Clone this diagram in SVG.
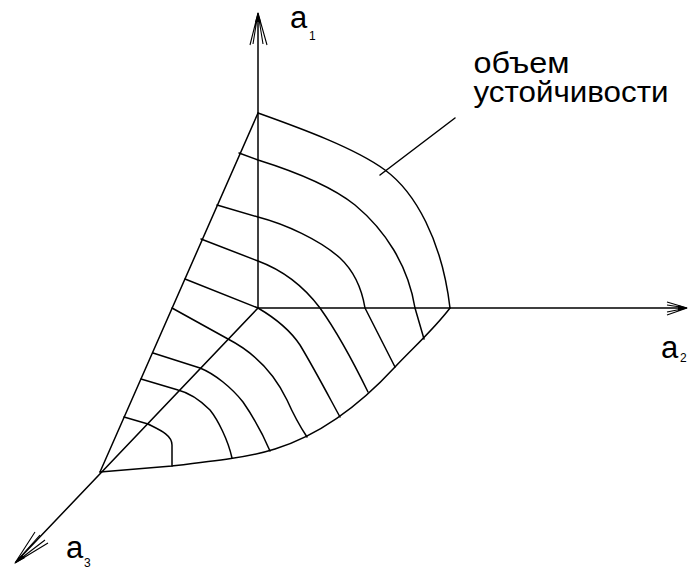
<svg xmlns="http://www.w3.org/2000/svg" width="694" height="569" viewBox="0 0 694 569">
<style>
.ln{fill:none;stroke:#000;stroke-width:1.5;stroke-linejoin:round;stroke-linecap:round}
.ah{fill:none;stroke:#000;stroke-width:1.1}
.tip{fill:#000}
.lbl{font-family:"Liberation Sans",Arial,sans-serif;fill:#000}
.main{font-size:31px}
.txt{font-size:29px}
.sub{font-size:12px}
</style>
<rect width="694" height="569" fill="#fff"/>
<g id="connectors">
  <path class="ln" d="M258,308 L258,14"/>
  <path class="ln" d="M258,308 L686,308"/>
  <path class="ln" d="M258,308 L16,562"/>
  <path class="ah" d="M258,13 L250,45 M258,13 L253,44 M258,13 L263,44 M258,13 L267,45"/>
  <polygon class="tip" points="258,12 255,22 261,22"/>
  <path class="ah" d="M687,308 L667,302 M687,308 L667,305 M687,308 L667,312 M687,308 L667,315"/>
  <polygon class="tip" points="688,308 678,305 678,311"/>
  <path class="ah" d="M15,563 L35,532 M15,563 L40,535 M15,563 L45,540 M15,563 L48,543"/>
  <polygon class="tip" points="14,564 22,555 25,558"/>
  <path class="ln" d="M380,175 L455,118"/>
</g>
<g id="volume">
  <path class="ln" d="M258,113 L100,472"/>
  <path class="ln" d="M258,113 C300,128 355,148 385,170 C415,192 442,240 450,308"/>
  <path class="ln" d="M100,472 L172,466 C215,461 250,457 275,449 C320,435 360,405 395,367 C415,346 435,328 450,308"/>
</g>
<g id="contours">
  <path class="ln" d="M239,153 L258,160 C290,170 330,185 355,205 C385,230 408,265 415,308 L424,339"/>
  <path class="ln" d="M217,205 L258,217 C285,224 320,240 340,258 C355,272 362,290 365,308 L395,367"/>
  <path class="ln" d="M201,239 L258,261 C285,271 305,288 320,308 C330,322 345,345 368,392"/>
  <path class="ln" d="M185,279 L258,308 C275,318 290,330 300,345 C315,370 328,395 340,417"/>
  <path class="ln" d="M172,308 L228,339 C255,353 275,375 287,400 C295,418 301,428 307,437"/>
  <path class="ln" d="M153,353 L200,368 C215,374 232,388 243,402 C252,415 262,432 270,451"/>
  <path class="ln" d="M141,379 L178,390 C190,393 200,400 210,410 C218,420 228,440 232,458"/>
  <path class="ln" d="M124,417 L148,424 C160,430 172,435 172,445 L172,466"/>
</g>
<g id="label-a1">
  <text class="lbl main" x="290" y="28">a</text>
  <text class="lbl sub" x="309" y="40">1</text>
</g>
<g id="label-a2">
  <text class="lbl main" x="661" y="358">a</text>
  <text class="lbl sub" x="680" y="362">2</text>
</g>
<g id="label-a3">
  <text class="lbl main" x="66" y="558">a</text>
  <text class="lbl sub" x="84" y="567">3</text>
</g>
<g id="label-volume">
  <text class="lbl txt" x="473.5" y="73" textLength="96" lengthAdjust="spacingAndGlyphs">объем</text>
  <text class="lbl txt" x="473.5" y="102" textLength="195" lengthAdjust="spacingAndGlyphs">устойчивости</text>
</g>
</svg>
